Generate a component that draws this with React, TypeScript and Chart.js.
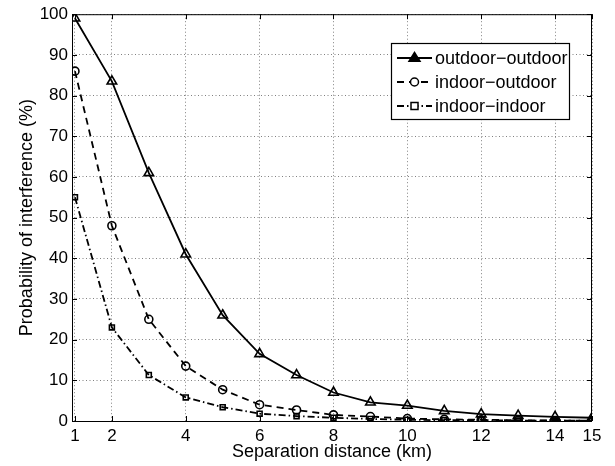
import React, { useEffect, useRef } from "react";
import { Chart, registerables } from "chart.js";

Chart.register(...registerables);

const distances = [1, 2, 3, 4, 5, 6, 7, 8, 9, 10, 11, 12, 13, 14, 15];
const outdoorOutdoor = [99, 83.5, 61, 41, 26, 16.5, 11.3, 7, 4.6, 3.8, 2.5, 1.7, 1.3, 1, 0.8];
const indoorOutdoor = [86, 48, 25, 13.5, 7.7, 4, 2.7, 1.5, 1.1, 0.6, 0.4, 0.3, 0.2, 0.1, 0.1];
const indoorIndoor = [55, 23, 11.3, 5.8, 3.4, 1.8, 1.2, 0.8, 0.5, 0.3, 0.2, 0.2, 0.1, 0.1, 0.1];
const xTickValues = [1, 2, 4, 6, 8, 10, 12, 14, 15];
const yTickValues = [0, 10, 20, 30, 40, 50, 60, 70, 80, 90, 100];
const seriesLabels = ["outdoor\u2212outdoor", "indoor\u2212outdoor", "indoor\u2212indoor"];

const FONT = "'Liberation Sans', Arial, Helvetica, sans-serif";

const framePlugin = {
  id: "frame",
  afterDraw(chart: any) {
    const { ctx, chartArea } = chart;
    const { left, right, top, bottom } = chartArea;
    const xs = chart.scales.x;
    const ys = chart.scales.y;
    ctx.save();
    ctx.strokeStyle = "#000";
    ctx.lineWidth = 1;
    ctx.setLineDash([]);
    ctx.strokeRect(left + 0.5, top + 0.5, right - left - 1, bottom - top);
    const tl = 5;
    ctx.beginPath();
    xTickValues.forEach((v) => {
      const px = Math.round(xs.getPixelForValue(v)) + 0.5;
      ctx.moveTo(px, bottom);
      ctx.lineTo(px, bottom - tl);
      ctx.moveTo(px, top);
      ctx.lineTo(px, top + tl);
    });
    yTickValues.forEach((v) => {
      const py = Math.round(ys.getPixelForValue(v)) + 0.5;
      ctx.moveTo(left, py);
      ctx.lineTo(left + tl, py);
      ctx.moveTo(right, py);
      ctx.lineTo(right - tl, py);
    });
    ctx.stroke();

    // legend
    const bx = 391, by = 43, bw = 178, bh = 76;
    ctx.fillStyle = "#fff";
    ctx.fillRect(bx, by, bw, bh);
    ctx.lineWidth = 1.2;
    ctx.strokeRect(bx + 0.5, by + 0.5, bw, bh);
    const rows = [58, 82, 106];
    chart.data.datasets.forEach((ds: any, i: number) => {
      const y = rows[i];
      ctx.strokeStyle = "#000";
      ctx.lineWidth = ds.borderWidth;
      ctx.setLineDash(ds.borderDash || []);
      ctx.beginPath();
      ctx.moveTo(397, y);
      ctx.lineTo(432, y);
      ctx.stroke();
      ctx.setLineDash([]);
      ctx.lineWidth = 1.5;
      ctx.fillStyle = "#fff";
      const r = ds.pointRadius;
      ctx.beginPath();
      if (ds.pointStyle === "triangle") {
        ctx.moveTo(414.5, y - r);
        ctx.lineTo(414.5 + r, y + r * 0.6);
        ctx.lineTo(414.5 - r, y + r * 0.6);
        ctx.closePath();
        ctx.fillStyle = "#000";
        ctx.fill();
      } else if (ds.pointStyle === "circle") {
        ctx.arc(414.5, y, r, 0, Math.PI * 2);
        ctx.fill();
      } else {
        ctx.rect(414.5 - r, y - r, 2 * r, 2 * r);
        ctx.fill();
      }
      ctx.stroke();
      ctx.fillStyle = "#000";
      ctx.font = `18px ${FONT}`;
      ctx.textBaseline = "middle";
      ctx.textAlign = "left";
      ctx.fillText(seriesLabels[i], 435, y + 1);
    });
    ctx.restore();
  },
};

export default function App() {
  const ref = useRef<HTMLCanvasElement | null>(null);
  useEffect(() => {
    if (!ref.current) return;
    const common = {
      borderColor: "#000",
      pointBorderColor: "#000",
      pointBackgroundColor: "rgba(255,255,255,0)",
      pointBorderWidth: 1.6,
      fill: false,
      tension: 0,
    };
    const chart = new Chart(ref.current, {
      type: "line",
      data: {
        datasets: [
          {
            ...common,
            label: seriesLabels[0],
            data: distances.map((d, i) => ({ x: d, y: outdoorOutdoor[i] })),
            borderWidth: 1.8,
            pointStyle: "triangle",
            pointRadius: 5.5,
          },
          {
            ...common,
            label: seriesLabels[1],
            data: distances.map((d, i) => ({ x: d, y: indoorOutdoor[i] })),
            borderWidth: 1.8,
            borderDash: [7, 5],
            pointStyle: "circle",
            pointRadius: 4,
          },
          {
            ...common,
            label: seriesLabels[2],
            data: distances.map((d, i) => ({ x: d, y: indoorIndoor[i] })),
            borderWidth: 1.8,
            borderDash: [7, 3, 1.5, 3],
            pointStyle: "rect",
            pointRadius: 3.5,
          },
        ],
      },
      options: {
        animation: false,
        responsive: false,
        maintainAspectRatio: false,
        layout: { padding: { top: 12, right: 23, left: 0, bottom: 0 } },
        plugins: { legend: { display: false }, tooltip: { enabled: false } },
        scales: {
          x: {
            type: "linear",
            min: 0.92,
            max: 15,
            afterBuildTicks: (s: any) => {
              s.ticks = xTickValues.map((v) => ({ value: v }));
            },
            afterFit: (s: any) => {
              s.height = 45;
            },
            ticks: {
              color: "#000",
              font: { family: FONT, size: 17 },
              padding: 5,
              maxRotation: 0,
              autoSkip: false,
              callback: (v: any) => String(v),
            },
            grid: {
              color: "#808080",
              drawTicks: false,
              lineWidth: 1,
            },
            border: { display: false, dash: [1, 2.5] },
            title: {
              display: true,
              text: "Separation distance (km)",
              color: "#000",
              font: { family: FONT, size: 18 },
              padding: { top: 0, bottom: 3 },
            },
          },
          y: {
            type: "linear",
            min: 0,
            max: 100,
            afterBuildTicks: (s: any) => {
              s.ticks = yTickValues.map((v) => ({ value: v }));
            },
            afterFit: (s: any) => {
              s.width = 72;
            },
            ticks: {
              color: "#000",
              font: { family: FONT, size: 17 },
              padding: 4,
              autoSkip: false,
            },
            grid: {
              color: "#808080",
              drawTicks: false,
              lineWidth: 1,
            },
            border: { display: false, dash: [1, 2.5] },
            title: {
              display: true,
              text: "Probability of interference (%)",
              color: "#000",
              font: { family: FONT, size: 18 },
              padding: { top: 16, bottom: 0 },
            },
          },
        },
      },
      plugins: [framePlugin],
    } as any);
    return () => chart.destroy();
  }, []);
  return (
    <div style={{ position: "absolute", left: 0, top: 0, width: 615, height: 466, background: "#fff" }}>
      <canvas ref={ref} width={615} height={466} style={{ width: 615, height: 466 }} />
    </div>
  );
}
